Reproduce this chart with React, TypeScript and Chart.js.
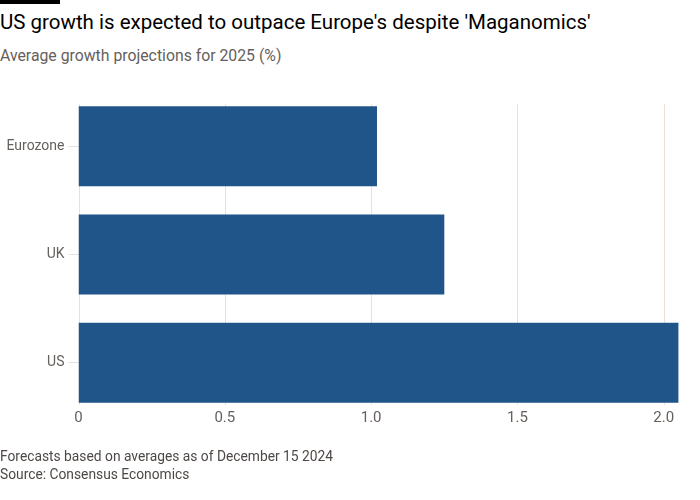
import React, { useEffect, useRef } from "react";
import { Chart, registerables } from "chart.js";

Chart.register(...registerables);

const categories = ["Eurozone", "UK", "US"];
const growth2025 = [1.02, 1.25, 2.05];
const tickValues = [0, 0.5, 1.0, 1.5, 2.0];
const tickLabels = ["0", "0.5", "1.0", "1.5", "2.0"];

const titleText = "US growth is expected to outpace Europe's despite 'Maganomics'";
const subtitleText = "Average growth projections for 2025 (%)";
const footnoteText = "Forecasts based on averages as of December 15 2024";
const sourceText = "Source: Consensus Economics";

const FONT = "Roboto, 'Liberation Sans', sans-serif";
const BAR = "#20558a";
const GRID = "#e9e0da";
const TEXT_GREY = "#66605c";

const gridPlugin = {
  id: "barGrid",
  beforeDatasetsDraw(chart: any) {
    const meta = chart.getDatasetMeta(0);
    const els = meta.data;
    if (!els.length) return;
    const first = els[0];
    const last = els[els.length - 1];
    const top = first.y - first.height / 2 - 2;
    const bottom = last.y + last.height / 2 + 2;
    const xs = chart.scales.x;
    const ctx = chart.ctx;
    ctx.save();
    ctx.strokeStyle = GRID;
    ctx.lineWidth = 1;
    xs.ticks.forEach((t: any) => {
      const px = Math.round(xs.getPixelForValue(t.value)) + 0.5;
      ctx.beginPath();
      ctx.moveTo(px, top);
      ctx.lineTo(px, bottom);
      ctx.stroke();
    });
    ctx.restore();
  },
  afterDraw(chart: any) {
    const meta = chart.getDatasetMeta(0);
    const els = meta.data;
    if (!els.length) return;
    const last = els[els.length - 1];
    const y = last.y + last.height / 2 + 8;
    const xs = chart.scales.x;
    const ctx = chart.ctx;
    ctx.save();
    ctx.fillStyle = TEXT_GREY;
    ctx.font = `15px ${FONT}`;
    ctx.textAlign = "center";
    ctx.textBaseline = "top";
    xs.ticks.forEach((t: any) => {
      const i = tickValues.indexOf(Number(t.value));
      if (i < 0) return;
      ctx.fillText(tickLabels[i], xs.getPixelForValue(t.value), y);
    });
    ctx.restore();
  },
};

export default function App() {
  const ref = useRef<HTMLCanvasElement | null>(null);

  useEffect(() => {
    document.body.style.margin = "0";
    if (!ref.current) return;
    const chart = new Chart(ref.current, {
      type: "bar",
      data: {
        labels: categories,
        datasets: [
          {
            data: growth2025,
            backgroundColor: BAR,
            borderWidth: 0,
            barPercentage: 0.738,
            categoryPercentage: 1,
          },
        ],
      },
      options: {
        indexAxis: "y",
        animation: false,
        responsive: false,
        maintainAspectRatio: false,
        layout: { padding: { top: 92, right: 21, bottom: 63, left: 0 } },
        plugins: {
          legend: { display: false },
          tooltip: { enabled: false },
          title: { display: false },
        },
        scales: {
          x: {
            type: "linear",
            min: 0,
            max: 2.052,
            grid: { display: false, drawTicks: false },
            border: { display: false },
            afterBuildTicks: (scale: any) => {
              scale.ticks = tickValues.map((v) => ({ value: v }));
            },
            afterFit: (scale: any) => {
              scale.height = 20;
            },
            ticks: { display: false },
          },
          y: {
            type: "category",
            grid: {
              offset: false,
              drawOnChartArea: false,
              drawTicks: true,
              tickLength: 10,
              color: GRID,
            },
            border: { display: false },
            afterFit: (scale: any) => {
              scale.width = 78.5;
            },
            ticks: {
              padding: 4,
              color: TEXT_GREY,
              font: { family: FONT, size: 14 },
            },
          },
        },
      },
      plugins: [gridPlugin],
    });
    return () => chart.destroy();
  }, []);

  return (
    <div
      style={{
        position: "relative",
        width: 700,
        height: 500,
        background: "#fff",
        fontFamily: FONT,
        overflow: "hidden",
      }}
    >
      <div
        style={{
          position: "absolute",
          left: 0,
          top: 0,
          width: 60,
          height: 4,
          background: "#000",
        }}
      />
      <div
        style={{
          position: "absolute",
          left: 0,
          top: 10,
          fontSize: 20.5,
          lineHeight: "24px",
          color: "#000",
          whiteSpace: "nowrap",
        }}
      >
        {titleText}
      </div>
      <div
        style={{
          position: "absolute",
          left: 0,
          top: 46,
          fontSize: 15.8,
          lineHeight: "20px",
          color: TEXT_GREY,
          whiteSpace: "nowrap",
        }}
      >
        {subtitleText}
      </div>
      <canvas
        ref={ref}
        width={700}
        height={500}
        style={{ position: "absolute", left: 0, top: 0, width: 700, height: 500 }}
      />
      <div
        style={{
          position: "absolute",
          left: 0,
          top: 448,
          fontSize: 13.8,
          lineHeight: "17.5px",
          color: "#4d4845",
          whiteSpace: "nowrap",
        }}
      >
        <div>{footnoteText}</div>
        <div>{sourceText}</div>
      </div>
    </div>
  );
}
